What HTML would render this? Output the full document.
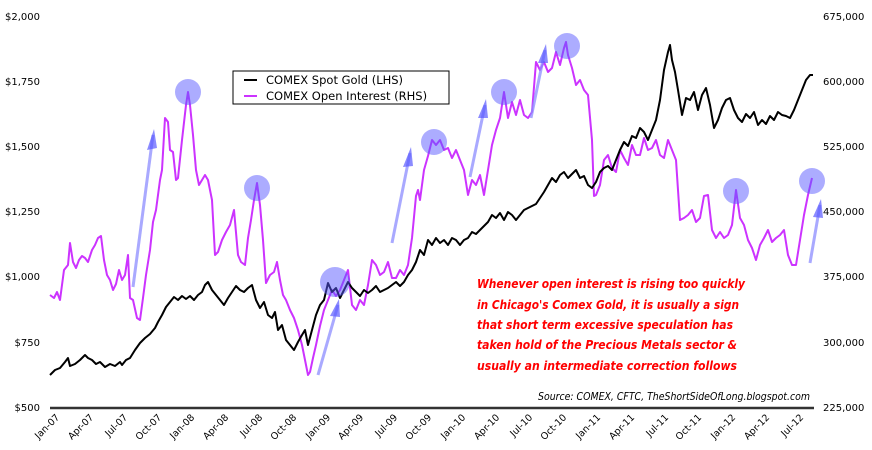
<!DOCTYPE html>
<html><head><meta charset="utf-8"><style>
html,body{margin:0;padding:0;background:#fff;}
svg{display:block;font-family:"DejaVu Sans","Liberation Sans",sans-serif;}
</style></head><body>
<svg width="872" height="450" viewBox="0 0 872 450" xmlns="http://www.w3.org/2000/svg">
<rect width="872" height="450" fill="#fff"/>
<g font-size="10" fill="#000" text-anchor="end">
<text x="40" y="20">$2,000</text>
<text x="40" y="85">$1,750</text>
<text x="40" y="150">$1,500</text>
<text x="40" y="215">$1,250</text>
<text x="40" y="280">$1,000</text>
<text x="40" y="346">$750</text>
<text x="40" y="411">$500</text>
</g>
<g font-size="10" fill="#000" text-anchor="start">
<text x="823" y="20">675,000</text>
<text x="823" y="85">600,000</text>
<text x="823" y="150">525,000</text>
<text x="823" y="215">450,000</text>
<text x="823" y="280">375,000</text>
<text x="823" y="346">300,000</text>
<text x="823" y="411">225,000</text>
</g>
<line x1="50" y1="408" x2="814" y2="408" stroke="#333" stroke-width="2.5"/>
<g font-size="9.5" fill="#000" text-anchor="end">
<text transform="translate(60,418) rotate(-45)">Jan-07</text>
<text transform="translate(94,418) rotate(-45)">Apr-07</text>
<text transform="translate(128,418) rotate(-45)">Jul-07</text>
<text transform="translate(162,418) rotate(-45)">Oct-07</text>
<text transform="translate(195,418) rotate(-45)">Jan-08</text>
<text transform="translate(229,418) rotate(-45)">Apr-08</text>
<text transform="translate(263,418) rotate(-45)">Jul-08</text>
<text transform="translate(297,418) rotate(-45)">Oct-08</text>
<text transform="translate(331,418) rotate(-45)">Jan-09</text>
<text transform="translate(364,418) rotate(-45)">Apr-09</text>
<text transform="translate(398,418) rotate(-45)">Jul-09</text>
<text transform="translate(432,418) rotate(-45)">Oct-09</text>
<text transform="translate(466,418) rotate(-45)">Jan-10</text>
<text transform="translate(500,418) rotate(-45)">Apr-10</text>
<text transform="translate(533,418) rotate(-45)">Jul-10</text>
<text transform="translate(567,418) rotate(-45)">Oct-10</text>
<text transform="translate(601,418) rotate(-45)">Jan-11</text>
<text transform="translate(635,418) rotate(-45)">Apr-11</text>
<text transform="translate(669,418) rotate(-45)">Jul-11</text>
<text transform="translate(702,418) rotate(-45)">Oct-11</text>
<text transform="translate(736,418) rotate(-45)">Jan-12</text>
<text transform="translate(770,418) rotate(-45)">Apr-12</text>
<text transform="translate(804,418) rotate(-45)">Jul-12</text>
</g>
<polyline fill="none" stroke="#cc33ff" stroke-width="2" stroke-linejoin="round" points="50,295 54,298 57,292 60,300 64,270 68,265 70,243 73,262 76,268 79,260 82,256 85,258 88,262 92,250 95,245 98,238 101,236 104,260 107,275 110,280 113,290 116,284 119,270 122,280 125,275 128,255 130,298 133,300 137,318 140,320 143,298 146,275 150,250 153,222 156,210 160,180 162,170 165,118 168,122 170,150 173,152 176,180 178,178 182,140 186,105 188,92 190,105 193,135 196,170 199,185 202,180 205,175 208,180 212,200 215,255 218,252 222,240 226,232 230,225 234,210 238,255 241,262 245,265 248,238 251,220 254,200 257,183 260,205 263,240 266,283 270,275 274,272 277,262 280,280 283,295 286,300 290,310 294,318 298,330 302,345 305,360 308,375 310,372 313,358 316,345 320,326 324,310 328,300 332,290 336,296 340,290 344,280 348,270 352,305 356,310 360,300 364,305 368,285 372,260 376,265 380,275 384,272 388,262 392,278 396,278 400,270 404,275 408,265 412,238 416,196 418,190 420,200 424,170 428,156 432,140 436,145 440,140 444,150 448,148 452,158 456,150 460,160 464,170 468,195 472,180 476,185 480,175 484,195 488,170 492,145 496,130 500,118 504,92 508,118 512,102 516,115 520,100 524,115 528,118 532,112 536,62 540,70 544,62 548,72 552,68 556,52 560,65 564,48 566,42 568,55 572,68 576,85 580,80 584,90 588,95 592,140 594,196 596,195 600,185 604,160 608,155 612,168 616,172 620,150 624,158 628,165 632,145 636,155 640,155 644,138 648,150 652,148 656,140 660,155 664,158 668,140 672,150 676,160 680,220 684,218 688,215 692,210 696,222 700,218 704,196 708,195 712,230 716,238 720,232 724,238 728,235 732,225 736,190 740,218 744,225 748,240 752,248 756,260 760,245 764,238 768,230 772,242 776,238 780,235 784,230 788,255 792,265 796,265 800,240 804,215 808,195 812,178"/>
<polyline fill="none" stroke="#000" stroke-width="2" stroke-linejoin="round" points="50,375 55,370 60,368 65,362 68,358 70,366 75,364 80,360 85,355 88,358 92,360 96,364 100,362 105,367 110,364 115,366 120,362 122,365 126,360 130,358 135,350 140,343 145,338 150,334 155,328 158,322 162,315 166,307 170,302 174,297 178,300 182,296 186,299 190,296 194,300 198,295 202,292 205,285 208,282 212,290 216,295 220,300 224,305 228,298 232,292 236,286 240,290 244,292 248,288 252,285 256,300 260,308 264,302 268,315 272,318 275,312 278,330 282,325 286,340 290,345 294,350 298,342 302,335 305,330 308,345 312,330 316,315 320,305 324,300 328,283 332,292 336,288 340,298 344,290 348,282 352,288 356,292 360,296 364,290 368,293 372,290 376,286 380,292 384,290 388,288 392,285 396,282 400,286 404,282 408,275 412,270 416,262 420,250 424,255 428,240 432,245 436,238 440,243 444,240 448,245 452,238 456,240 460,245 464,240 468,238 472,232 476,234 480,230 484,226 488,222 492,215 496,218 500,213 504,220 508,212 512,215 516,220 520,215 524,210 528,208 532,206 536,204 540,198 544,192 548,185 552,178 556,182 560,175 564,172 568,178 572,174 576,170 580,178 584,176 588,185 592,188 596,182 600,172 604,168 608,166 612,170 616,160 620,150 624,142 628,146 632,136 636,138 640,128 644,132 648,140 652,130 656,120 660,100 664,70 668,52 670,45 672,60 675,72 678,90 682,115 686,98 690,100 694,92 698,110 702,95 706,88 710,105 714,128 718,120 722,108 726,100 730,98 734,110 738,118 742,122 746,114 750,118 754,112 758,125 762,120 766,124 770,116 774,120 778,112 782,115 786,116 790,118 794,110 798,100 802,90 806,80 810,75 813,75"/>
<g fill="#5a5aff" fill-opacity="0.5">
<circle cx="188" cy="92" r="13"/><circle cx="257" cy="188" r="13"/><circle cx="335" cy="282" r="15"/><circle cx="434" cy="142" r="13"/><circle cx="504" cy="92" r="13"/><circle cx="567" cy="46" r="13"/><circle cx="736" cy="191" r="13"/><circle cx="812" cy="181" r="13"/>
</g>
<g stroke="#8c8cff" stroke-opacity="0.75" stroke-width="3" fill="none">
<line x1="133" y1="287" x2="153" y2="135"/><line x1="318" y1="375" x2="338" y2="305"/><line x1="392" y1="243" x2="410" y2="153"/><line x1="470" y1="177" x2="485" y2="105"/><line x1="531" y1="118" x2="545" y2="50"/><line x1="810" y1="263" x2="820" y2="205"/>
</g>
<g fill="#5a5aff" fill-opacity="0.7">
<polygon points="154,129 147,150 157,148"/><polygon points="339,299 330,316 340,317"/><polygon points="411,147 403,167 413,166"/><polygon points="486,99 478,118 488,118"/><polygon points="546,44 538,63 548,63"/><polygon points="821,199 813,217 823,218"/>
</g>
<rect x="233" y="71" width="216" height="33" fill="#fff" stroke="#000" stroke-width="1"/>
<line x1="244" y1="80" x2="257" y2="80" stroke="#000" stroke-width="2"/>
<line x1="244" y1="96" x2="257" y2="96" stroke="#cc33ff" stroke-width="2"/>
<g font-size="11.5" fill="#000">
<text x="266" y="84">COMEX Spot Gold (LHS)</text>
<text x="266" y="100">COMEX Open Interest (RHS)</text>
</g>
<g font-size="12" fill="#ff0000" font-style="italic" font-weight="bold">
<text x="477" y="288" textLength="268" lengthAdjust="spacingAndGlyphs">Whenever open interest is rising too quickly</text>
<text x="477" y="309" textLength="262" lengthAdjust="spacingAndGlyphs">in Chicago's Comex Gold, it is usually a sign</text>
<text x="477" y="329" textLength="256" lengthAdjust="spacingAndGlyphs">that short term excessive speculation has</text>
<text x="477" y="349" textLength="260" lengthAdjust="spacingAndGlyphs">taken hold of the Precious Metals sector &amp;</text>
<text x="477" y="370" textLength="260" lengthAdjust="spacingAndGlyphs">usually an intermediate correction follows</text>
</g>
<text x="538" y="400" font-size="10.5" font-style="italic" fill="#000" textLength="272" lengthAdjust="spacingAndGlyphs">Source: COMEX, CFTC, TheShortSideOfLong.blogspot.com</text>
</svg>
</body></html>
